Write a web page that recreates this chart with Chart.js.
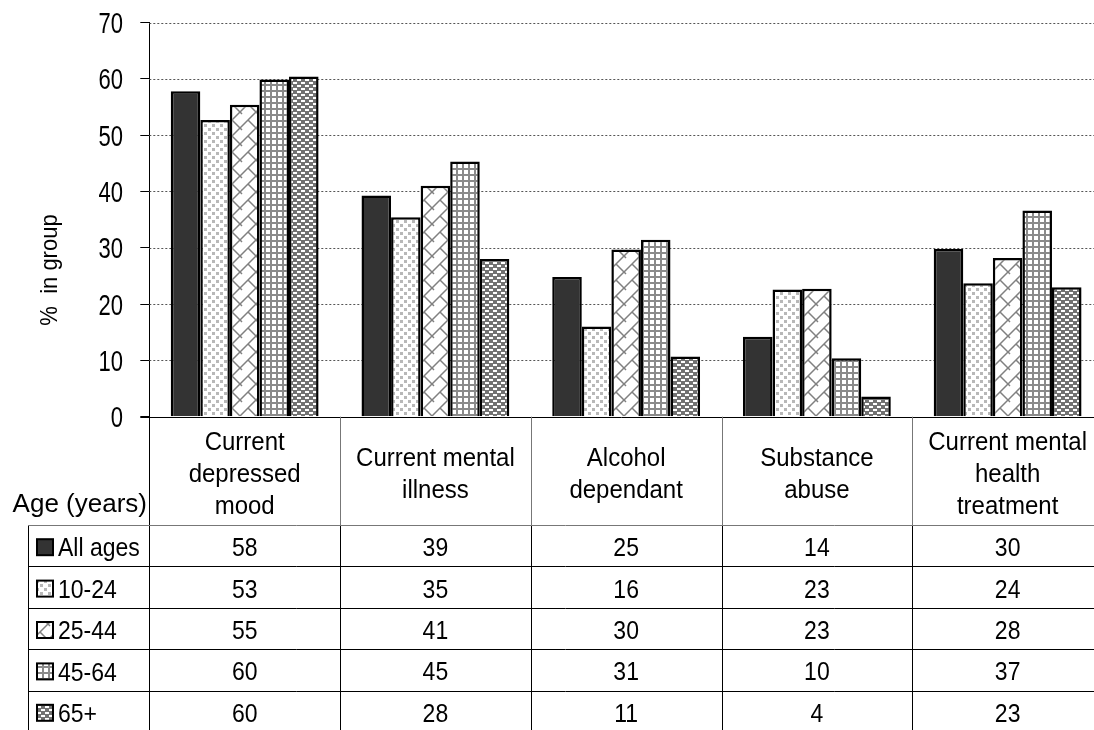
<!DOCTYPE html>
<html lang="en">
<head>
<meta charset="UTF-8">
<title>% in group by age</title>
<script src="https://cdn.jsdelivr.net/npm/chart.js"></script>
<style>
  html, body { margin: 0; padding: 0; background: #fff; overflow: hidden; }
  .wrap { position: relative; width: 1103px; height: 730px; }
</style>
</head>
<body>
<div class="wrap"><canvas id="chart"></canvas></div>
<script>
const categories = [
  ['Current', 'depressed', 'mood'],
  ['Current mental', 'illness'],
  ['Alcohol', 'dependant'],
  ['Substance', 'abuse'],
  ['Current mental', 'health', 'treatment']
];
const groups = ['All ages', '10-24', '25-44', '45-64', '65+'];
const allAges  = [57.8, 39.3, 24.8, 14.2, 29.8];
const age10_24 = [52.7, 35.4, 16.0, 22.6, 23.7];
const age25_44 = [55.4, 41.0, 29.7, 22.7, 28.2];
const age45_64 = [59.9, 45.3, 31.4, 10.4, 36.6];
const age65up  = [60.4, 28.0, 10.7, 3.6, 23.0];
const yMax = 70;
const yStep = 10;
const yTitle = '%  in group';
const rowTitle = 'Age (years)';

const FONT = '"Liberation Sans", Arial, sans-serif';

function makePattern(w, h, draw) {
  const c = document.createElement('canvas');
  c.width = w; c.height = h;
  const g = c.getContext('2d');
  draw(g);
  return g.createPattern(c, 'repeat');
}

const fills = [
  '#333333',
  makePattern(8, 8, g => {
    g.fillStyle = '#fff'; g.fillRect(0, 0, 8, 8);
    g.fillStyle = '#b8b8b8';
    g.fillRect(0, 0, 3, 3); g.fillRect(4, 4, 3, 3);
  }),
  makePattern(16, 16, g => {
    g.fillStyle = '#fff'; g.fillRect(0, 0, 16, 16);
    g.strokeStyle = '#808080'; g.lineWidth = 1.5;
    g.beginPath();
    g.moveTo(-2, 18); g.lineTo(18, -2);
    g.moveTo(8, 8); g.lineTo(16, 16);
    g.moveTo(0, 0); g.lineTo(2, 2);
    g.stroke();
  }),
  makePattern(6, 6, g => {
    g.fillStyle = '#fff'; g.fillRect(0, 0, 6, 6);
    g.fillStyle = '#8a8a8a';
    g.fillRect(0, 0, 6, 2); g.fillRect(0, 0, 2, 6);
  }),
  makePattern(8, 6, g => {
    g.fillStyle = '#727272'; g.fillRect(0, 0, 8, 6);
    g.fillStyle = '#fff';
    g.fillRect(1, 1, 4, 2); g.fillRect(5, 4, 3, 2); g.fillRect(0, 4, 1, 2);
  })
];

// text drawn a bit taller than wide, like the original
function text(ctx, s, x, y, size, sy, align) {
  ctx.save();
  ctx.font = size + 'px ' + FONT;
  ctx.fillStyle = '#000';
  ctx.textAlign = align;
  ctx.textBaseline = 'alphabetic';
  ctx.translate(x, y + 0.358 * size * sy);
  ctx.scale(1, sy);
  ctx.fillText(s, 0, 0);
  ctx.restore();
}

function line(ctx, x1, y1, x2, y2, color) {
  ctx.beginPath();
  ctx.strokeStyle = color;
  ctx.lineWidth = 1;
  ctx.moveTo(x1, y1);
  ctx.lineTo(x2, y2);
  ctx.stroke();
}

const tablePlugin = {
  id: 'dataTable',
  beforeDatasetsDraw(chart) {
    const { ctx, chartArea, scales: { y } } = chart;
    ctx.save();
    ctx.setLineDash([2, 2]);
    y.ticks.forEach(t => {
      if (t.value === 0) return;
      const py = Math.round(y.getPixelForValue(t.value)) + 0.5;
      line(ctx, chartArea.left, py, chartArea.right, py, '#555');
    });
    ctx.restore();
  },
  afterDraw(chart) {
    const { ctx, chartArea, scales: { x, y } } = chart;
    const left = chartArea.left, right = chartArea.right;
    const bottom = chartArea.bottom;
    const headerBottom = 525;
    const rowH = 41.4;
    const tableBottom = 735;
    const half = (x.getPixelForValue(1) - x.getPixelForValue(0)) / 2;

    ctx.save();
    // y tick labels
    y.ticks.forEach(t => {
      text(ctx, String(t.value), 123, y.getPixelForValue(t.value), 22, 1.35, 'right');
    });
    // y title
    ctx.save();
    ctx.translate(48, 270);
    ctx.rotate(-Math.PI / 2);
    text(ctx, yTitle, 0, 0, 22, 1.12, 'center');
    ctx.restore();

    // x axis
    line(ctx, left - 9, Math.round(bottom) + 0.5, right, Math.round(bottom) + 0.5, '#000');

    // column borders
    line(ctx, Math.round(left) + 0.5, bottom, Math.round(left) + 0.5, tableBottom, '#000');
    categories.forEach((c, i) => {
      const bx = Math.round(x.getPixelForValue(i) + half) + 0.5;
      line(ctx, bx, bottom, bx, headerBottom, '#777');
      line(ctx, bx, headerBottom, bx, tableBottom, '#000');
    });
    line(ctx, 28.5, headerBottom, 28.5, tableBottom, '#000');
    line(ctx, 28, headerBottom + 0.5, right, headerBottom + 0.5, '#777');
    for (let r = 1; r < groups.length; r++) {
      const ry = Math.round(headerBottom + r * rowH) + 0.5;
      line(ctx, 28, ry, right, ry, '#000');
    }

    // header labels
    categories.forEach((c, i) => {
      const cx = x.getPixelForValue(i);
      const top = 472.5 - (c.length - 1) * 16;
      c.forEach((l, k) => text(ctx, l, cx, top + k * 32, 24, 1.07, 'center'));
    });
    text(ctx, rowTitle, 147, 502.5, 26, 1, 'right');

    // rows
    chart.data.datasets.forEach((ds, r) => {
      const cy = headerBottom + r * rowH + rowH / 2 + 1.5;
      ctx.fillStyle = ds.backgroundColor;
      ctx.fillRect(37, cy - 8, 16, 16);
      ctx.lineWidth = 2;
      ctx.strokeStyle = '#000';
      ctx.strokeRect(37, cy - 8, 16, 16);
      text(ctx, ds.label, 58, cy, 23, 1.12, 'left');
      ds.data.forEach((v, i) => {
        text(ctx, String(Math.round(v)), x.getPixelForValue(i), cy, 23, 1.1, 'center');
      });
    });
    ctx.restore();
  }
};

const series = [allAges, age10_24, age25_44, age45_64, age65up];

new Chart(document.getElementById('chart'), {
  type: 'bar',
  data: {
    labels: categories.map(c => c.join(' ')),
    datasets: series.map((d, i) => ({
      label: groups[i],
      data: d,
      backgroundColor: fills[i],
      borderColor: '#000',
      borderWidth: 2.5,
      categoryPercentage: 0.775,
      barPercentage: 1.0
    }))
  },
  options: {
    responsive: true,
    maintainAspectRatio: false,
    animation: false,
    layout: { padding: { left: 0, right: 0, top: 22.5, bottom: 313.3 } },
    plugins: { legend: { display: false }, tooltip: { enabled: false } },
    scales: {
      x: { display: false },
      y: {
        min: 0,
        max: yMax,
        ticks: { stepSize: yStep, display: false },
        grid: { drawOnChartArea: false, drawTicks: true, tickLength: 9, color: '#000' },
        border: { display: true, color: '#000', width: 1 },
        afterFit(scale) { scale.width = 149.3; }
      }
    }
  },
  plugins: [tablePlugin]
});
</script>
</body>
</html>
